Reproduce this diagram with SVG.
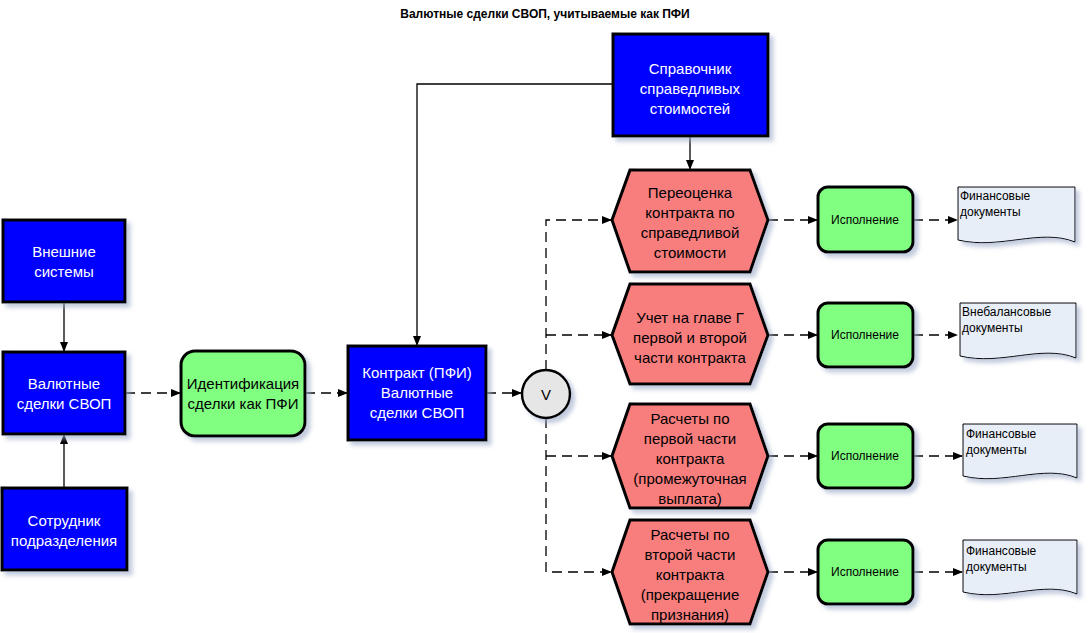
<svg xmlns="http://www.w3.org/2000/svg" width="1089" height="633" viewBox="0 0 1089 633">
<defs>
<marker id="a" markerWidth="10" markerHeight="8" refX="9" refY="4" orient="auto" markerUnits="userSpaceOnUse"><path d="M0,0 L10,4 L0,8 Z" fill="#000"/></marker>
<filter id="sh" x="-10%" y="-10%" width="130%" height="130%"><feDropShadow dx="4" dy="4" stdDeviation="2" flood-color="#9aa8c8" flood-opacity="0.6"/></filter>
</defs>
<style>
text{font-family:"Liberation Sans",Arial,sans-serif;text-anchor:middle}
.b{fill:#0000ff;stroke:#000;stroke-width:3;filter:url(#sh)}
.g{fill:#80ff80;stroke:#000;stroke-width:3;filter:url(#sh)}
.r{fill:#f87e7e;stroke:#000;stroke-width:3;filter:url(#sh)}
.d{fill:#e8eef8;stroke:#000;stroke-width:1;filter:url(#sh)}
.w{fill:#fff;font-size:15px}
.k{fill:#000;font-size:15px}
.s{fill:#000;font-size:12px}
.dt{fill:#000;font-size:12px;text-anchor:start}
.c line,.c path{stroke:#000;stroke-width:1.3;fill:none}
.dash{stroke-dasharray:10,6}
</style>
<text x="545" y="18" style="font-size:12px;font-weight:bold">Валютные сделки СВОП, учитываемые как ПФИ</text>
<g class="c">
<line x1="64" y1="302" x2="64" y2="351" marker-end="url(#a)"/>
<line x1="64" y1="488" x2="64" y2="435" marker-end="url(#a)"/>
<line class="dash" x1="125" y1="393" x2="180" y2="393" marker-end="url(#a)"/>
<line class="dash" x1="305" y1="393" x2="347" y2="393" marker-end="url(#a)"/>
<line class="dash" x1="486" y1="393" x2="521" y2="393" marker-end="url(#a)"/>
<path d="M613,84 H417 V345" marker-end="url(#a)"/>
<line x1="690" y1="136" x2="690" y2="169" marker-end="url(#a)"/>
<path class="dash" d="M546,370 V220 H611" marker-end="url(#a)"/>
<path class="dash" d="M546,335 H611" marker-end="url(#a)"/>
<path class="dash" d="M546,418 V572 H611" marker-end="url(#a)"/>
<path class="dash" d="M546,456 H611" marker-end="url(#a)"/>
<line class="dash" x1="768" y1="220" x2="817" y2="220" marker-end="url(#a)"/>
<line class="dash" x1="768" y1="335" x2="817" y2="335" marker-end="url(#a)"/>
<line class="dash" x1="768" y1="456" x2="817" y2="456" marker-end="url(#a)"/>
<line class="dash" x1="768" y1="572" x2="817" y2="572" marker-end="url(#a)"/>
<line class="dash" x1="913" y1="220" x2="957" y2="220" marker-end="url(#a)"/>
<line class="dash" x1="913" y1="335" x2="957" y2="335" marker-end="url(#a)"/>
<line class="dash" x1="913" y1="456" x2="962" y2="456" marker-end="url(#a)"/>
<line class="dash" x1="913" y1="572" x2="962" y2="572" marker-end="url(#a)"/>
</g>
<g id="ext"><rect class="b" x="3" y="220" width="122" height="82"/><text class="w" x="64" y="257">Внешние</text><text class="w" x="64" y="277">системы</text></g>
<g id="swap"><rect class="b" x="3" y="352" width="122" height="82"/><text class="w" x="64" y="389">Валютные</text><text class="w" x="64" y="409">сделки СВОП</text></g>
<g id="emp"><rect class="b" x="2" y="488" width="125" height="82"/><text class="w" x="64" y="526">Сотрудник</text><text class="w" x="64" y="546">подразделения</text></g>
<g id="ident"><rect class="g" x="181" y="351" width="124" height="85" rx="14"/><text class="k" x="243" y="389">Идентификация</text><text class="k" x="243" y="409">сделки как ПФИ</text></g>
<g id="contract"><rect class="b" x="348" y="346" width="138" height="94"/><text class="w" x="417" y="378">Контракт (ПФИ)</text><text class="w" x="417" y="398">Валютные</text><text class="w" x="417" y="418">сделки СВОП</text></g>
<g id="xor"><circle cx="546" cy="394" r="24" fill="#e6e6e6" stroke="#000" stroke-width="2.5" style="filter:url(#sh)"/><text class="k" x="546" y="400">V</text></g>
<g id="ref"><rect class="b" x="613" y="34" width="155" height="102"/><text class="w" x="690" y="74">Справочник</text><text class="w" x="690" y="94">справедливых</text><text class="w" x="690" y="114">стоимостей</text></g>
<g id="h1"><polygon class="r" points="630,170 750,170 768,220 750,272 630,272 612,220"/><text class="k" x="690" y="198">Переоценка</text><text class="k" x="690" y="218">контракта по</text><text class="k" x="690" y="238">справедливой</text><text class="k" x="690" y="258">стоимости</text></g>
<g id="h2"><polygon class="r" points="630,284 750,284 768,335 750,384 630,384 612,335"/><text class="k" x="690" y="323">Учет на главе Г</text><text class="k" x="690" y="343">первой и второй</text><text class="k" x="690" y="363">части контракта</text></g>
<g id="h3"><polygon class="r" points="630,404 750,404 768,456 750,508 630,508 612,456"/><text class="k" x="690" y="424">Расчеты по</text><text class="k" x="690" y="444">первой части</text><text class="k" x="690" y="464">контракта</text><text class="k" x="690" y="484">(промежуточная</text><text class="k" x="690" y="504">выплата)</text></g>
<g id="h4"><polygon class="r" points="630,520 750,520 768,572 750,624 630,624 612,572"/><text class="k" x="690" y="540">Расчеты по</text><text class="k" x="690" y="560">второй части</text><text class="k" x="690" y="580">контракта</text><text class="k" x="690" y="600">(прекращение</text><text class="k" x="690" y="620">признания)</text></g>
<g id="e1"><rect class="g" x="818" y="187" width="95" height="65" rx="10"/><text class="s" x="865" y="224">Исполнение</text></g>
<g id="e2"><rect class="g" x="818" y="303" width="95" height="64" rx="10"/><text class="s" x="865" y="339">Исполнение</text></g>
<g id="e3"><rect class="g" x="818" y="424" width="95" height="64" rx="10"/><text class="s" x="865" y="460">Исполнение</text></g>
<g id="e4"><rect class="g" x="818" y="540" width="95" height="64" rx="10"/><text class="s" x="865" y="576">Исполнение</text></g>
<g id="d1"><path class="d" d="M958,187 H1075 V242 C1040,228 1000,250 958,240 Z"/><text class="dt" x="960" y="200">Финансовые</text><text class="dt" x="960" y="216">документы</text></g>
<g id="d2"><path class="d" d="M960,303 H1076 V358 C1041,344 1002,366 960,356 Z"/><text class="dt" x="962" y="316">Внебалансовые</text><text class="dt" x="962" y="332">документы</text></g>
<g id="d3"><path class="d" d="M963,424 H1077 V478 C1043,464 1004,486 963,476 Z"/><text class="dt" x="966" y="438">Финансовые</text><text class="dt" x="966" y="454">документы</text></g>
<g id="d4"><path class="d" d="M963,540 H1077 V594 C1043,580 1004,602 963,592 Z"/><text class="dt" x="966" y="555">Финансовые</text><text class="dt" x="966" y="571">документы</text></g>
</svg>
